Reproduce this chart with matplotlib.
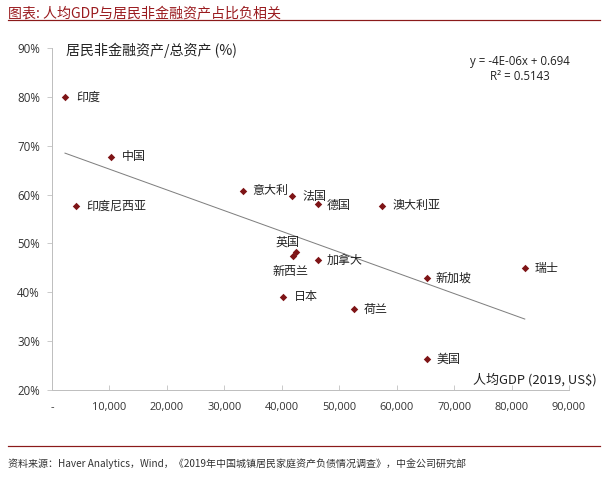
import numpy as np
import matplotlib
matplotlib.use("Agg")
import matplotlib.pyplot as plt
from matplotlib.ticker import FuncFormatter, FixedLocator

plt.rcParams['font.family'] = ['Noto Sans CJK SC', 'DejaVu Sans']

countries = ["印度", "中国", "印度尼西亚", "意大利", "法国", "德国", "澳大利亚",
             "英国", "新西兰", "加拿大", "日本", "荷兰", "新加坡", "美国", "瑞士"]
gdp = [2260, 10300, 4200, 33300, 41800, 46300, 57500,
       42500, 42000, 46300, 40200, 52600, 65200, 65200, 82300]
share = [0.800, 0.677, 0.577, 0.607, 0.597, 0.581, 0.577,
         0.482, 0.474, 0.466, 0.391, 0.365, 0.429, 0.263, 0.449]
x_ticks = [0, 10000, 20000, 30000, 40000, 50000, 60000, 70000, 80000, 90000]
y_ticks = [0.2, 0.3, 0.4, 0.5, 0.6, 0.7, 0.8, 0.9]
eq_text = "y = -4E-06x + 0.694\nR² = 0.5143"

# label offsets (points) and alignment
offsets = {
    "印度": (11, 0, 'left'), "中国": (11, 0, 'left'), "印度尼西亚": (10, 0, 'left'),
    "意大利": (9, 1, 'left'), "法国": (10, 0, 'left'), "德国": (9, -1, 'left'),
    "澳大利亚": (10, 0, 'left'), "英国": (-9, 10, 'center'), "新西兰": (-3, -15, 'center'),
    "加拿大": (9, 0, 'left'), "日本": (11, 0, 'left'), "荷兰": (9, 0, 'left'),
    "新加坡": (9, 0, 'left'), "美国": (10, 0, 'left'), "瑞士": (10, 0, 'left'),
}

fig = plt.figure(figsize=(604/72, 481/72), dpi=72)
ax = fig.add_axes([52/604, 1-390/481, (569-52)/604, (390-48)/481])

red = '#7E1416'
ax.scatter(gdp, share, marker='D', s=28, color=red, zorder=3, linewidths=0)

# linear trend line
coef = np.polyfit(gdp, share, 1)
xs = np.array([min(gdp), max(gdp)])
ax.plot(xs, np.polyval(coef, xs), color='#7F7F7F', lw=1.0, zorder=2)

for c, gx, sy in zip(countries, gdp, share):
    dx, dy, ha = offsets[c]
    ax.annotate(c, (gx, sy), xytext=(dx, dy), textcoords='offset points',
                ha=ha, va='center', fontsize=12, color='#222222')

ax.set_xlim(0, 90000)
ax.set_ylim(0.2, 0.9)
ax.xaxis.set_major_locator(FixedLocator(x_ticks))
ax.yaxis.set_major_locator(FixedLocator(y_ticks))
ax.xaxis.set_major_formatter(FuncFormatter(lambda v, p: '-' if v == 0 else f"{int(v):,}"))
ax.yaxis.set_major_formatter(FuncFormatter(lambda v, p: f"{v*100:.0f}%"))

for s in ['top', 'right']:
    ax.spines[s].set_visible(False)
for s in ['left', 'bottom']:
    ax.spines[s].set_color('#BFBFBF')
    ax.spines[s].set_linewidth(1.0)
ax.tick_params(axis='x', direction='in', length=5, color='#BFBFBF', pad=12, labelsize=11, labelcolor='#333333')
ax.tick_params(axis='y', direction='out', length=5, color='#BFBFBF', pad=7, labelsize=11.5, labelcolor='#333333')
for lab in ax.get_xticklabels() + ax.get_yticklabels():
    lab.set_family(['Open Sans', 'DejaVu Sans'])

fig.text(66/604, 1-50/481, "居民非金融资产/总资产 (%)", fontsize=14, color='#222222', va='center', ha='left')
fig.text(597/604, 1-380/481, "人均GDP (2019, US$)", fontsize=13, color='#222222', va='center', ha='right')
fig.text(520/604, 1-69/481, eq_text, fontsize=11.5, color='#222222', va='center', ha='center',
         family=['Open Sans', 'DejaVu Sans'], linespacing=1.2)

# title and footer
fig.text(8/604, 1-13/481, "图表: 人均GDP与居民非金融资产占比负相关", fontsize=14, color='#9A1B1F',
         va='center', ha='left', style='italic')
fig.add_artist(plt.Line2D([8/604, 600/604], [1-20/481, 1-20/481], color='#8B1A1A', lw=1.2))
fig.add_artist(plt.Line2D([8/604, 600/604], [1-446/481, 1-446/481], color='#8B1A1A', lw=1.2))
fig.text(8/604, 1-464/481, "资料来源：Haver Analytics，Wind，《2019年中国城镇居民家庭资产负债情况调查》，中金公司研究部",
         fontsize=10, color='#333333', va='center', ha='left', style='italic')

fig.savefig('out.png', dpi=72)
